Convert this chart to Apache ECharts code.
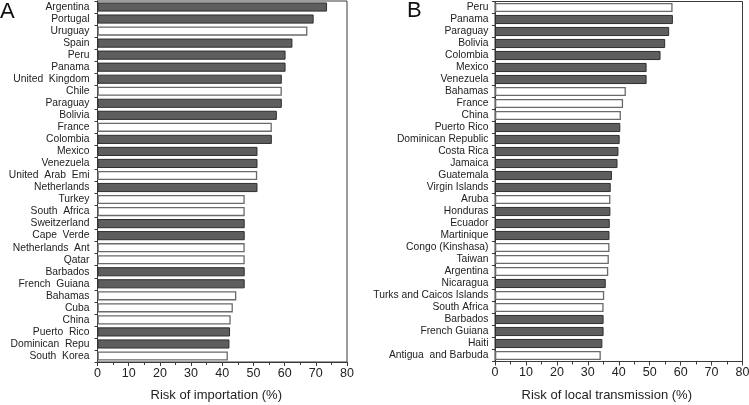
<!DOCTYPE html>
<html>
<head>
<meta charset="utf-8">
<script src="https://cdn.jsdelivr.net/npm/echarts@6/dist/echarts.min.js"></script>
<style>html,body{margin:0;padding:0;background:#fff}#c{width:749px;height:405px}</style>
</head>
<body>
<div id="c"></div>
<script>
// Panel A: risk of importation (%)
const countriesA = ['Argentina','Portugal','Uruguay','Spain','Peru','Panama','United  Kingdom','Chile','Paraguay','Bolivia','France','Colombia','Mexico','Venezuela','United  Arab  Emi','Netherlands','Turkey','South  Africa','Sweitzerland','Cape  Verde','Netherlands  Ant','Qatar','Barbados','French  Guiana','Bahamas','Cuba','China','Puerto  Rico','Dominican  Repu','South  Korea'];
const valuesA = [73.6,69.3,67.3,62.5,60.3,60.3,59.1,59.1,59.1,57.5,55.9,55.9,51.3,51.3,51.2,51.3,47.2,47.2,47.2,47.2,47.2,47.2,47.2,47.2,44.5,43.4,42.7,42.5,42.3,41.8];
// 1 = dark (shaded) bar, 0 = open bar
const shadedA = [1,1,0,1,1,1,1,0,1,1,0,1,1,1,0,1,0,0,1,1,0,0,1,1,0,0,0,1,1,0];

// Panel B: risk of local transmission (%)
const countriesB = ['Peru','Panama','Paraguay','Bolivia','Colombia','Mexico','Venezuela','Bahamas','France','China','Puerto Rico','Dominican Republic','Costa Rica','Jamaica','Guatemala','Virgin Islands','Aruba','Honduras','Ecuador','Martinique','Congo (Kinshasa)','Taiwan','Argentina','Nicaragua','Turks and Caicos Islands','South Africa','Barbados','French Guiana','Haiti','Antigua  and Barbuda'];
const valuesB = [57.4,57.5,56.3,55.0,53.5,49.0,49.0,42.3,41.4,40.7,40.5,40.3,39.9,39.6,37.8,37.4,37.3,37.3,37.1,37.0,37.0,36.8,36.6,35.8,35.3,35.1,35.1,35.1,34.7,34.2];
const shadedB = [0,1,1,1,1,1,1,0,0,0,1,1,1,1,1,1,0,1,1,1,0,0,0,1,0,0,1,1,1,0];

const xTicks = [0,10,20,30,40,50,60,70,80];

const FONT = '"Liberation Sans", Arial, sans-serif';
const AXIS_COLOR = '#3a3a3a';

function barData(vals, flags) {
  return vals.map((v, i) => ({
    value: v,
    itemStyle: flags[i]
      ? { color: '#5e5e5e', borderColor: '#2e2e2e', borderWidth: 1 }
      : { color: '#ffffff', borderColor: '#6a6a6a', borderWidth: 1.3 }
  }));
}

function xAxisCfg(gridIndex, name, shift) {
  return {
    gridIndex, type: 'value', min: xTicks[0], max: xTicks[xTicks.length - 1], interval: 10,
    name, nameLocation: 'middle', nameGap: 27,
    nameTextStyle: { fontFamily: FONT, fontSize: 13, color: '#222', padding: [0, shift * 2, 0, 0] },
    axisLine: { show: true, lineStyle: { color: AXIS_COLOR, width: 1 } },
    axisTick: { show: true, length: 4, lineStyle: { color: AXIS_COLOR } },
    minorTick: { show: true, splitNumber: 2, length: 3, lineStyle: { color: AXIS_COLOR } },
    axisLabel: { fontFamily: FONT, fontSize: 12.5, color: '#222', margin: 5 },
    splitLine: { show: false }
  };
}

function yAxisCfg(gridIndex, cats, margin) {
  return {
    gridIndex, type: 'category', data: cats, inverse: true,
    axisLine: { show: true, lineStyle: { color: AXIS_COLOR, width: 1 } },
    axisTick: { show: true, length: 3, interval: 0, alignWithLabel: false, lineStyle: { color: AXIS_COLOR } },
    axisLabel: { fontFamily: FONT, fontSize: 10.3, color: '#222', margin, interval: 0 },
    splitLine: { show: false }
  };
}

const chart = echarts.init(document.getElementById('c'), null, { renderer: 'canvas' });
chart.setOption({
  animation: false,
  backgroundColor: '#fff',
  title: [
    { text: 'A', left: 0, top: 1, padding: 0, textStyle: { fontFamily: FONT, fontSize: 22, fontWeight: 'normal', color: '#111' } },
    { text: 'B', left: 407, top: 0, padding: 0, textStyle: { fontFamily: FONT, fontSize: 22, fontWeight: 'normal', color: '#111' } }
  ],
  grid: [
    { left: 97.5, right: 402, top: 1, bottom: 43, show: true, borderColor: AXIS_COLOR, borderWidth: 1, outerBoundsMode: 'none', containLabel: false },
    { left: 495, right: 6.5, top: 1.5, bottom: 43.5, show: true, borderColor: AXIS_COLOR, borderWidth: 1, outerBoundsMode: 'none', containLabel: false }
  ],
  xAxis: [
    xAxisCfg(0, 'Risk of importation (%)', 6),
    xAxisCfg(1, 'Risk of local transmission (%)', 12)
  ],
  yAxis: [
    yAxisCfg(0, countriesA, 8),
    yAxisCfg(1, countriesB, 6.5)
  ],
  series: [
    { type: 'bar', xAxisIndex: 0, yAxisIndex: 0, data: barData(valuesA, shadedA), barCategoryGap: '24%' },
    { type: 'bar', xAxisIndex: 1, yAxisIndex: 1, data: barData(valuesB, shadedB), barCategoryGap: '24%' }
  ]
});
</script>
</body>
</html>
